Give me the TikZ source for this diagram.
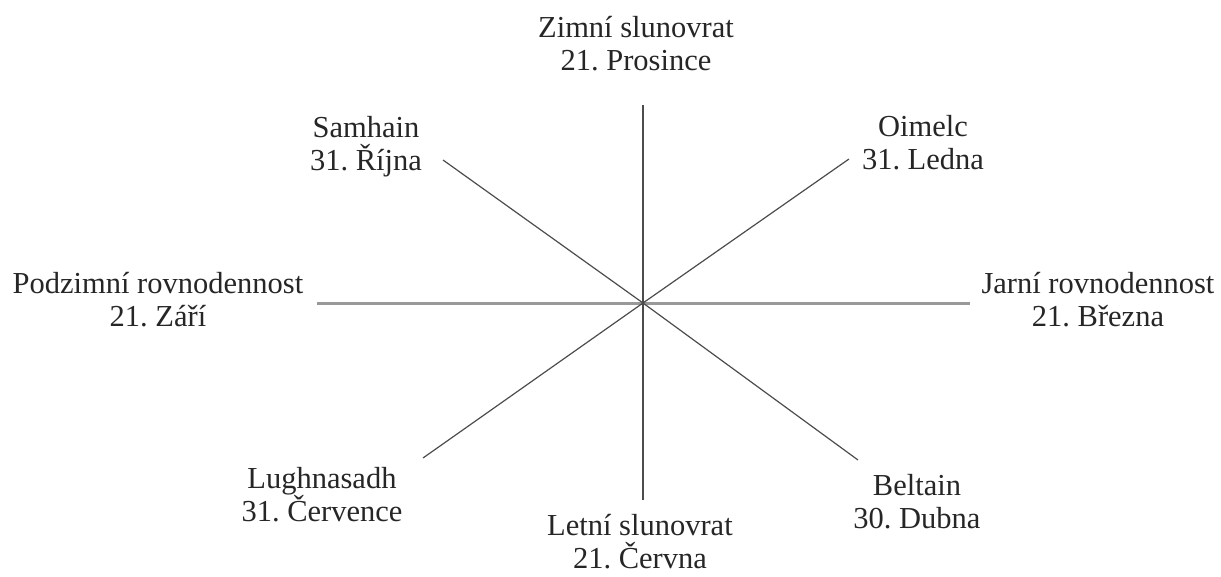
\documentclass[tikz,border=0pt]{standalone}
\usepackage{fontspec}
\setmainfont{Liberation Serif}
\frenchspacing
\tikzstyle{festival} = [align=center, inner sep=0pt, font=\fontsize{30.5}{33}\selectfont, text=black!85]
\tikzstyle{spoke} = [draw=black!70, line width=1.2pt]
\tikzstyle{equinox} = [draw=black!40, line width=3pt]

\begin{document}
\begin{tikzpicture}[x=1pt, y=1pt]
  \useasboundingbox (-643,-273) rectangle (578,303);

  % Hub and free ends of the spokes
  \coordinate (hub) at (0,0);
  \coordinate (n_end) at (0,198);
  \coordinate (s_end) at (0,-197);
  \coordinate (w_end) at (-326,0);
  \coordinate (e_end) at (327,0);
  \coordinate (nw_end) at (-200,143);
  \coordinate (ne_end) at (206,144);
  \coordinate (sw_end) at (-220,-155);
  \coordinate (se_end) at (215,-157);

  % Festivals
  \node (zimni) [festival] at (-7,259) {Zimní slunovrat\\21. Prosince};
  \node (samhain) [festival] at (-277,156) {Samhain\\31. Října};
  \node (oimelc) [festival] at (280,160) {Oimelc\\31. Ledna};
  \node (podzimni) [festival] at (-485,3) {Podzimní rovnodennost\\21. Září};
  \node (jarni) [festival] at (455,3) {Jarní rovnodennost\\21. Března};
  \node (lughnasadh) [festival] at (-321,-192) {Lughnasadh\\31. Července};
  \node (letni) [festival] at (-3,-239) {Letní slunovrat\\21. Června};
  \node (beltain) [festival] at (274,-198.5) {Beltain\\30. Dubna};

  % Spokes
  \draw[equinox] (w_end) -- (hub) -- (e_end);
  \draw[spoke] (hub) -- (n_end);
  \draw[spoke] (hub) -- (s_end);
  \draw[spoke] (hub) -- (nw_end);
  \draw[spoke] (hub) -- (ne_end);
  \draw[spoke] (hub) -- (sw_end);
  \draw[spoke] (hub) -- (se_end);

\end{tikzpicture}
\end{document}
